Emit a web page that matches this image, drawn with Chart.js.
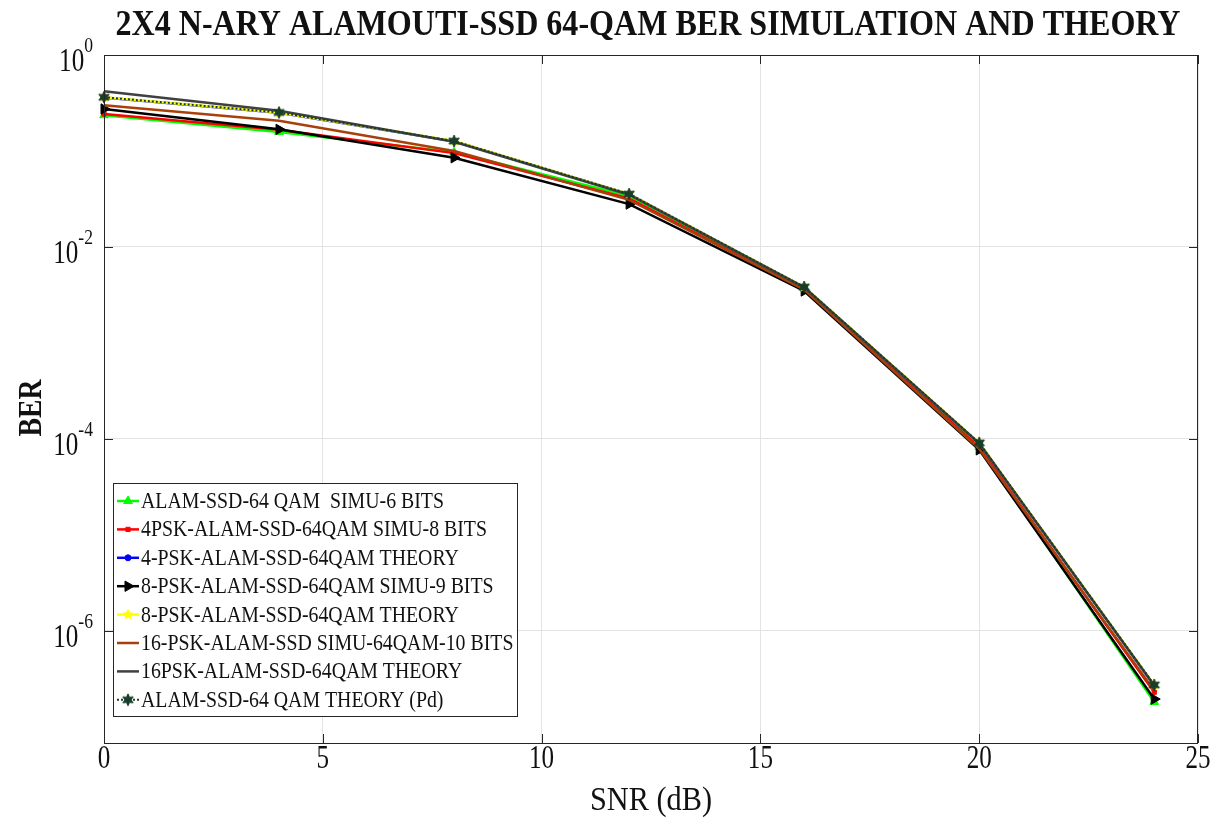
<!DOCTYPE html>
<html>
<head>
<meta charset="utf-8">
<script src="https://cdn.jsdelivr.net/npm/chart.js@4.4.1/dist/chart.umd.min.js"></script>
<style>
  body { margin: 0; background: #fff; }
  canvas { display: block; }
</style>
</head>
<body>
<canvas id="berChart" width="1221" height="826"></canvas>
<script>
// SNR points (dB)
var snr = [0, 4, 8, 12, 16, 20, 24];

// BER values
var alamSimu6   = [0.236, 0.158, 0.097, 0.034, 0.0037, 8.3e-5, 1.82e-7];
var psk4Simu8   = [0.243, 0.166, 0.095, 0.032, 0.0036, 8.2e-5, 2.3e-7];
var psk4Theory  = [0.360, 0.250, 0.126, 0.0355, 0.0038, 9.0e-5, 2.7e-7];
var psk8Simu9   = [0.274, 0.168, 0.085, 0.028, 0.00348, 7.7e-5, 1.95e-7];
var psk8Theory  = [0.363, 0.252, 0.127, 0.0356, 0.00383, 9.1e-5, 2.74e-7];
var psk16Simu10 = [0.300, 0.207, 0.100, 0.031, 0.0036, 7.9e-5, 2.4e-7];
var psk16Theory = [0.420, 0.263, 0.125, 0.035, 0.0038, 9.0e-5, 2.7e-7];
var alamPd      = [0.363, 0.252, 0.127, 0.0356, 0.00383, 9.1e-5, 2.74e-7];

var xTicks = [0, 5, 10, 15, 20, 25];
var yTicks = [1, 1e-2, 1e-4, 1e-6];
var yExp = ['0', '-2', '-4', '-6'];

var seriesNames = [
    'ALAM-SSD-64 QAM  SIMU-6 BITS',
    '4PSK-ALAM-SSD-64QAM SIMU-8 BITS',
    '4-PSK-ALAM-SSD-64QAM THEORY',
    '8-PSK-ALAM-SSD-64QAM SIMU-9 BITS',
    '8-PSK-ALAM-SSD-64QAM THEORY',
    '16-PSK-ALAM-SSD SIMU-64QAM-10 BITS',
    '16PSK-ALAM-SSD-64QAM THEORY',
    'ALAM-SSD-64 QAM THEORY (Pd)'
];

var FONT = '"Liberation Serif", "Times New Roman", serif';

// star shaped marker images
function starImage(points, size, fill, stroke) {
    var c = document.createElement('canvas');
    c.width = size; c.height = size;
    var g = c.getContext('2d');
    var r = size / 2 - 1, r2 = r * 0.5;
    g.beginPath();
    for (var i = 0; i < points * 2; i++) {
        var a = -Math.PI / 2 + i * Math.PI / points;
        var rr = i % 2 === 0 ? r : r2;
        g.lineTo(size / 2 + rr * Math.cos(a), size / 2 + rr * Math.sin(a));
    }
    g.closePath();
    g.fillStyle = fill;
    g.fill();
    g.strokeStyle = stroke;
    g.lineWidth = 1;
    g.stroke();
    return c;
}
var hexStar = starImage(6, 14, '#173d2b', '#173d2b');
var pentStar = starImage(5, 12, '#ffff00', '#ffff00');

function pts(arr) {
    return arr.map(function (v, i) { return { x: snr[i], y: v }; });
}

function ds(idx, data, color, style, radius, extra) {
    var d = {
        label: seriesNames[idx],
        data: pts(data),
        borderColor: color,
        backgroundColor: color,
        borderWidth: 2.5,
        pointStyle: style,
        pointRadius: radius,
        pointBorderWidth: 1,
        pointBorderColor: color,
        pointBackgroundColor: color,
        clip: false,
        order: 10 - idx
    };
    for (var k in extra) d[k] = extra[k];
    return d;
}

var datasets = [
    ds(0, alamSimu6, '#00ff00', 'triangle', 5, {}),
    ds(1, psk4Simu8, '#ff0000', 'rect', 3, {}),
    ds(2, psk4Theory, '#0000ff', 'circle', 3, {}),
    ds(3, psk8Simu9, '#000000', 'triangle', 6, { pointRotation: 90 }),
    ds(4, psk8Theory, '#ffff00', pentStar, 6, {}),
    ds(5, psk16Simu10, '#a8400c', false, 0, {}),
    ds(6, psk16Theory, '#404040', false, 0, {}),
    ds(7, alamPd, '#173d2b', hexStar, 7, { borderDash: [2, 2], borderWidth: 2 })
];

// draw text squeezed horizontally like the original figure
function txt(ctx, s, x, y, size, bold, align, sx, rot) {
    ctx.save();
    ctx.font = (bold ? 'bold ' : '') + size + 'px ' + FONT;
    ctx.translate(x, y);
    if (rot) ctx.rotate(rot);
    ctx.scale(sx, 1);
    ctx.textAlign = align;
    ctx.textBaseline = 'middle';
    ctx.fillStyle = '#111';
    ctx.fillText(s, 0, 0);
    ctx.restore();
}
function fitScale(ctx, s, size, bold, target) {
    ctx.font = (bold ? 'bold ' : '') + size + 'px ' + FONT;
    return target / ctx.measureText(s).width;
}

function marker(ctx, d, x, y) {
    if (!d.pointStyle) return;
    if (Chart.helpers && Chart.helpers.drawPoint) {
        ctx.save();
        ctx.fillStyle = d.pointBackgroundColor;
        ctx.strokeStyle = d.pointBorderColor;
        ctx.lineWidth = 1;
        Chart.helpers.drawPoint(ctx, {
            pointStyle: d.pointStyle,
            rotation: d.pointRotation || 0,
            radius: d.pointRadius,
            borderWidth: 1
        }, x, y);
        ctx.restore();
    }
}

var decor = {
    id: 'decor',
    afterDraw: function (chart) {
        var ctx = chart.ctx, a = chart.chartArea;
        var xs = chart.scales.x, ys = chart.scales.y;

        // frame
        ctx.save();
        ctx.strokeStyle = '#262626';
        ctx.lineWidth = 1;
        ctx.strokeRect(a.left + 0.5, a.top + 0.5, a.right - a.left - 1, a.bottom - a.top);
        // inward tick marks
        ctx.beginPath();
        xTicks.forEach(function (v) {
            var px = Math.round(xs.getPixelForValue(v)) + 0.5;
            ctx.moveTo(px, a.bottom); ctx.lineTo(px, a.bottom - 9);
            ctx.moveTo(px, a.top); ctx.lineTo(px, a.top + 9);
        });
        yTicks.forEach(function (v) {
            var py = Math.round(ys.getPixelForValue(v)) + 0.5;
            ctx.moveTo(a.left, py); ctx.lineTo(a.left + 9, py);
            ctx.moveTo(a.right, py); ctx.lineTo(a.right - 9, py);
        });
        ctx.stroke();
        ctx.restore();

        // title
        var title = '2X4 N-ARY ALAMOUTI-SSD 64-QAM BER SIMULATION AND THEORY';
        txt(ctx, title, 648, 26, 36, true, 'center', fitScale(ctx, title, 36, true, 1065));

        // x tick labels
        xTicks.forEach(function (v) {
            txt(ctx, String(v), xs.getPixelForValue(v), 759, 33, false, 'center', 0.76);
        });
        // y tick labels 10^n
        yTicks.forEach(function (v, i) {
            var py = ys.getPixelForValue(v);
            ctx.font = '22px ' + FONT;
            var ew = ctx.measureText(yExp[i]).width * 0.8;
            var right = 93;
            txt(ctx, yExp[i], right, py - 9, 22, false, 'right', 0.8);
            txt(ctx, '10', right - ew, py + 7, 33, false, 'right', 0.76);
        });

        // axis titles
        txt(ctx, 'SNR (dB)', 651, 801, 33, false, 'center', fitScale(ctx, 'SNR (dB)', 33, false, 122));
        txt(ctx, 'BER', 32, 408, 34, true, 'center', fitScale(ctx, 'BER', 34, true, 57), -Math.PI / 2);

        // legend
        var lx = 113, ly = 483, lw = 404, lh = 233;
        ctx.save();
        ctx.fillStyle = '#fff';
        ctx.fillRect(lx, ly, lw, lh);
        ctx.strokeStyle = '#262626';
        ctx.lineWidth = 1;
        ctx.strokeRect(lx + 0.5, ly + 0.5, lw, lh);
        ctx.restore();
        var lsx = fitScale(ctx, seriesNames[1], 23, false, 346);
        chart.data.datasets.forEach(function (d, i) {
            var y = 501 + i * 28.4;
            ctx.save();
            ctx.strokeStyle = d.borderColor;
            ctx.lineWidth = d.borderWidth;
            if (d.borderDash) ctx.setLineDash(d.borderDash);
            ctx.beginPath();
            ctx.moveTo(117, y); ctx.lineTo(139, y);
            ctx.stroke();
            ctx.restore();
            marker(ctx, d, 128, y);
            txt(ctx, d.label, 141, y + 1, 23, false, 'left', lsx);
        });
    }
};

var ctx = document.getElementById('berChart').getContext('2d');
var berChart = new Chart(ctx, {
    type: 'line',
    data: { datasets: datasets },
    options: {
        responsive: false,
        animation: false,
        layout: { padding: { top: 55, right: 23, left: 0, bottom: 0 } },
        plugins: {
            legend: { display: false },
            title: { display: false },
            tooltip: { enabled: false }
        },
        scales: {
            x: {
                type: 'linear',
                min: 0,
                max: 25,
                afterBuildTicks: function (s) { s.ticks = xTicks.map(function (v) { return { value: v }; }); },
                afterFit: function (s) { s.height = 83; },
                ticks: { display: false },
                grid: { color: '#e3e3e3', drawTicks: false },
                border: { display: false }
            },
            y: {
                type: 'logarithmic',
                min: 6.8e-8,
                max: 1,
                afterBuildTicks: function (s) { s.ticks = yTicks.map(function (v) { return { value: v }; }); },
                afterFit: function (s) { s.width = 104; },
                ticks: { display: false },
                grid: { color: '#e3e3e3', drawTicks: false },
                border: { display: false }
            }
        }
    },
    plugins: [decor]
});
</script>
</body>
</html>
